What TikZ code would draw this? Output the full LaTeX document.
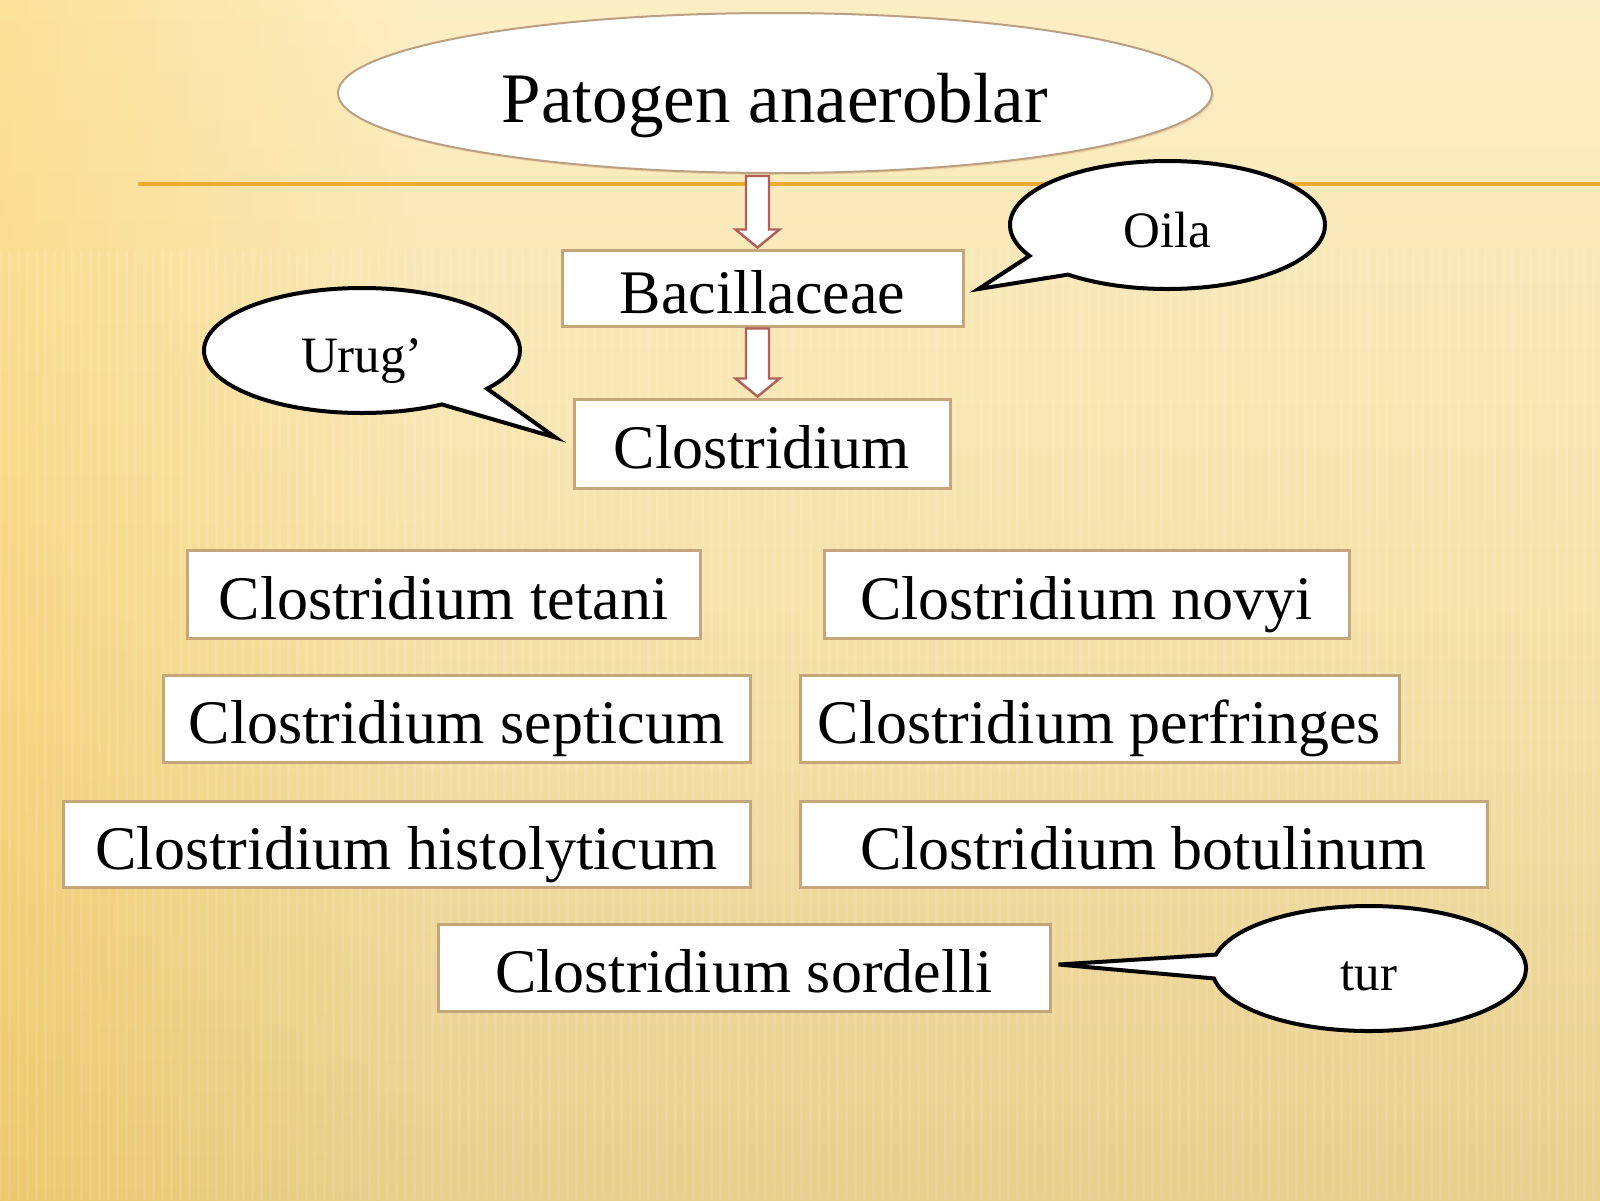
\documentclass[tikz,border=0pt]{standalone}
\usepackage{fontspec}
\setmainfont{Liberation Serif}
\usetikzlibrary{shapes.geometric,shapes.callouts,calc,shadows,fadings}
\definecolor{bgtop}{RGB}{252,238,196}
\definecolor{bgmid}{RGB}{246,226,170}
\definecolor{bgbot}{RGB}{231,207,140}
\definecolor{boxline}{RGB}{196,166,122}
\definecolor{ellline}{RGB}{185,160,130}
\definecolor{arrline}{RGB}{176,96,86}
\definecolor{ruleline}{RGB}{236,172,48}
\begin{document}
\begin{tikzpicture}[x=0.5pt,y=-0.5pt,
  boxnode/.style={draw=boxline,line width=1.5pt,fill=white,rectangle,inner sep=0pt,
    font=\fontsize{31}{31}\selectfont,text height=25pt,text depth=0pt,
    drop shadow={shadow xshift=1.2pt,shadow yshift=-1.2pt,opacity=0.3,fill=brown}},
  topnode/.style={draw=ellline,line width=1pt,fill=white,ellipse,inner sep=0pt,
    font=\fontsize{35.5}{35.5}\selectfont,text height=29pt,text depth=0pt,
    minimum width=437pt,minimum height=80pt,
    drop shadow={shadow xshift=1pt,shadow yshift=-1pt,opacity=0.2,fill=brown}},
  callnode/.style={draw=black,line width=2pt,fill=white,ellipse callout,inner sep=0pt,
    callout pointer arc=22,
    font=\fontsize{25.5}{25.5}\selectfont,text height=22pt,text depth=0pt},
  hollowarrow/.style={draw=arrline,line width=1.2pt,fill=white,line join=miter}
]
\useasboundingbox (0,0) rectangle (1600,1200);
% background
\shade[top color=bgtop,bottom color=bgbot,middle color=bgmid] (-5,-5) rectangle (1605,1205);
\fill[orange!60!yellow,opacity=0.22,path fading=east] (-5,-5) rectangle (420,1205);
\foreach \i in {0,9,...,1600}{
  \draw[white,opacity=0.10,line width=1.5pt] (\i,250) -- (\i,1200);
}
% horizontal rule
\draw[ruleline,line width=1.6pt] (138,184) -- (1600,184);

% nodes
\node[topnode] (top) at (775,93) {Patogen anaeroblar};
\node[boxnode,minimum width=200.5pt,minimum height=38pt] (bac) at (762.5,288) {Bacillaceae};
\node[boxnode,minimum width=188pt,minimum height=44.5pt] (clo) at (762,443.5) {Clostridium};

\node[boxnode,minimum width=256.5pt,minimum height=44pt] (tet) at (443.5,594) {Clostridium tetani};
\node[boxnode,minimum width=262.5pt,minimum height=44pt] (nov) at (1086.5,594) {Clostridium novyi};
\node[boxnode,minimum width=293.5pt,minimum height=43.5pt] (sep) at (456.5,718.5) {Clostridium septicum};
\node[boxnode,minimum width=299.5pt,minimum height=43.5pt] (per) at (1099.5,718.5) {Clostridium perfringes};
\node[boxnode,minimum width=343.5pt,minimum height=43pt] (his) at (406.5,844) {Clostridium histolyticum};
\node[boxnode,minimum width=343.5pt,minimum height=43pt] (bot) at (1143.5,844) {Clostridium botulinum};
\node[boxnode,minimum width=306pt,minimum height=43.5pt] (sor) at (744,967.5) {Clostridium sordelli};

% callouts
\coordinate (oilatip) at ($(bac.east)+(14,1)$);
\coordinate (urugtip) at ($(clo.west)+(-17,-6)$);
\coordinate (turtip) at ($(sor.east)+(7,-3)$);
\node[callnode,minimum width=157.5pt,minimum height=64pt,callout absolute pointer={(oilatip)}] (oila) at (1167.5,225) {Oila};
\node[callnode,minimum width=158pt,minimum height=62.5pt,callout absolute pointer={(urugtip)}] (urug) at (362,350.5) {Urug’};
\node[callnode,minimum width=157pt,minimum height=62.5pt,callout absolute pointer={(turtip)}] (tur) at (1369,968.5) {tur};

% hollow arrows
\draw[hollowarrow] let \p1=($(top.south)+(-17.5,2)$), \p2=($(bac.north)+(-5,-1)$) in
  (\x1-5.75pt,\y1) -- (\x1-5.75pt,\y2+9pt) -- (\x1-11pt,\y2+9pt) -- (\x1,\y2)
  -- (\x1+11pt,\y2+9pt) -- (\x1+5.75pt,\y2+9pt) -- (\x1+5.75pt,\y1) -- cycle;
\draw[hollowarrow] let \p1=($(bac.south)+(-5,1)$), \p2=($(clo.north)+(-4.5,-1)$) in
  (\x1-5.75pt,\y1) -- (\x1-5.75pt,\y2+9pt) -- (\x1-11pt,\y2+9pt) -- (\x1,\y2)
  -- (\x1+11pt,\y2+9pt) -- (\x1+5.75pt,\y2+9pt) -- (\x1+5.75pt,\y1) -- cycle;
\end{tikzpicture}
\end{document}
